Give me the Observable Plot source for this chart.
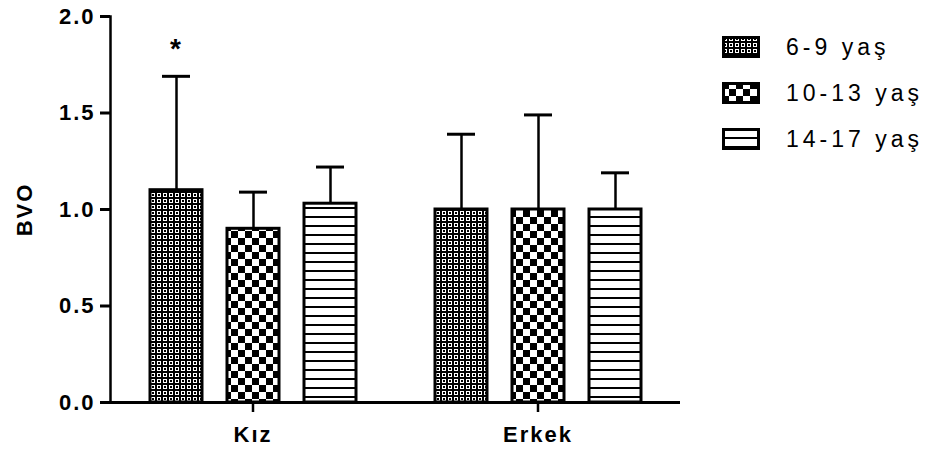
<!DOCTYPE html>
<html>
<head>
<meta charset="utf-8">
<script src="https://cdn.jsdelivr.net/npm/d3@7"></script>
<script src="https://cdn.jsdelivr.net/npm/@observablehq/plot@0.6"></script>
<style>
  body { margin: 0; background: #fff; }
  #wrap { position: relative; width: 938px; height: 452px; }
  #wrap svg.chart text { letter-spacing: 2px; }
  #legend { position: absolute; left: 722px; top: 35px; font-family: "Liberation Sans", Arial, sans-serif; font-size: 23px; color: #000; letter-spacing: 4px; }
  #legend .row { display: flex; align-items: center; height: 24px; margin-bottom: 22px; }
  #legend .row svg { margin-right: 26px; display: block; }
</style>
</head>
<body>
<!-- fill patterns for the three age groups -->
<svg width="0" height="0" style="position:absolute">
  <defs>
    <pattern id="pat-rings" patternUnits="userSpaceOnUse" width="6" height="6">
      <rect width="6" height="6" fill="#000"/>
      <rect x="1" y="1" width="4" height="4" fill="#fff"/>
      <rect x="2" y="2" width="2" height="2" fill="#000"/>
    </pattern>
    <pattern id="pat-check" patternUnits="userSpaceOnUse" width="14" height="14">
      <rect width="14" height="14" fill="#fff"/>
      <rect x="0" y="0" width="7" height="7" fill="#000"/>
      <rect x="7" y="7" width="7" height="7" fill="#000"/>
    </pattern>
    <pattern id="pat-lines" patternUnits="userSpaceOnUse" width="10" height="9">
      <rect width="10" height="9" fill="#fff"/>
      <rect x="0" y="0" width="10" height="2" fill="#000"/>
    </pattern>
  </defs>
</svg>
<div id="wrap"><div id="legend"></div></div>
<script>
const groups = ["Kız", "Erkek"];
const ages = ["6-9 yaş", "10-13 yaş", "14-17 yaş"];
// mean BVO per group (rows) and age band (columns)
const means = [
  [1.10, 0.90, 1.03],
  [1.00, 1.00, 1.00]
];
// top of the error bar (mean + SD)
const upper = [
  [1.69, 1.09, 1.22],
  [1.39, 1.49, 1.19]
];
// significance markers
const signif = [
  ["*", "", ""],
  ["", "", ""]
];
const yTicks = [0, 0.5, 1.0, 1.5, 2.0];
const patterns = ["url(#pat-rings)", "url(#pat-check)", "url(#pat-lines)"];

const rows = [];
groups.forEach((g, gi) => ages.forEach((a, ai) => rows.push({
  group: g, age: a, mean: means[gi][ai], upper: upper[gi][ai], sig: signif[gi][ai]
})));

const font = '"Liberation Sans", Arial, sans-serif';

const chart = Plot.plot({
  width: 938,
  height: 452,
  marginLeft: 110,
  marginRight: 258,
  marginTop: 16,
  marginBottom: 50,
  className: "chart",
  style: { fontFamily: font, fontSize: "22px", fontWeight: "bold", color: "#000", background: "#fff" },
  fx: { domain: groups, padding: 0, label: null },
  x: { domain: ages, paddingInner: 0.33, paddingOuter: 0.5, axis: null },
  y: { domain: [0, 2] },
  color: { domain: ages, range: patterns },
  marks: [
    Plot.barY(rows, { fx: "group", x: "age", y: "mean", fill: "age", stroke: "#000", strokeWidth: 3 }),
    Plot.ruleX(rows, { fx: "group", x: "age", y1: "mean", y2: "upper", stroke: "#000", strokeWidth: 2.5 }),
    Plot.tickY(rows, { fx: "group", x: "age", y: "upper", stroke: "#000", strokeWidth: 3, insetLeft: 12, insetRight: 12 }),
    Plot.text(rows.filter(d => d.sig), { fx: "group", x: "age", y: "upper", text: "sig", dy: -27, fontSize: 28, fontWeight: "bold" }),
    Plot.ruleY([0], { stroke: "#000", strokeWidth: 3 }),
    Plot.frame({ anchor: "left", facetAnchor: "left", stroke: "#000", strokeWidth: 2.5 }),
    Plot.axisY({
      ticks: yTicks, tickFormat: d3.format(".1f"), tickSize: 10, tickPadding: 5,
      stroke: "#000", strokeWidth: 3, fontSize: 22, fontWeight: "bold",
      label: "BVO", labelAnchor: "center", labelArrow: "none", labelOffset: 94
    }),
    Plot.axisFx({ anchor: "bottom", tickSize: 10, tickPadding: 14, stroke: "#000", strokeWidth: 2.5, fontSize: 22, fontWeight: "bold", label: null })
  ]
});
document.getElementById("wrap").prepend(chart);

// legend: patterned swatch + age label
const legend = d3.select("#legend");
ages.forEach((a, i) => {
  const row = legend.append("div").attr("class", "row");
  const sw = row.append("svg").attr("width", 38).attr("height", 22);
  sw.append("rect").attr("x", 1.5).attr("y", 1.5).attr("width", 35).attr("height", 19)
    .attr("fill", patterns[i]).attr("stroke", "#000").attr("stroke-width", 3);
  row.append("span").text(a);
});
</script>
</body>
</html>
